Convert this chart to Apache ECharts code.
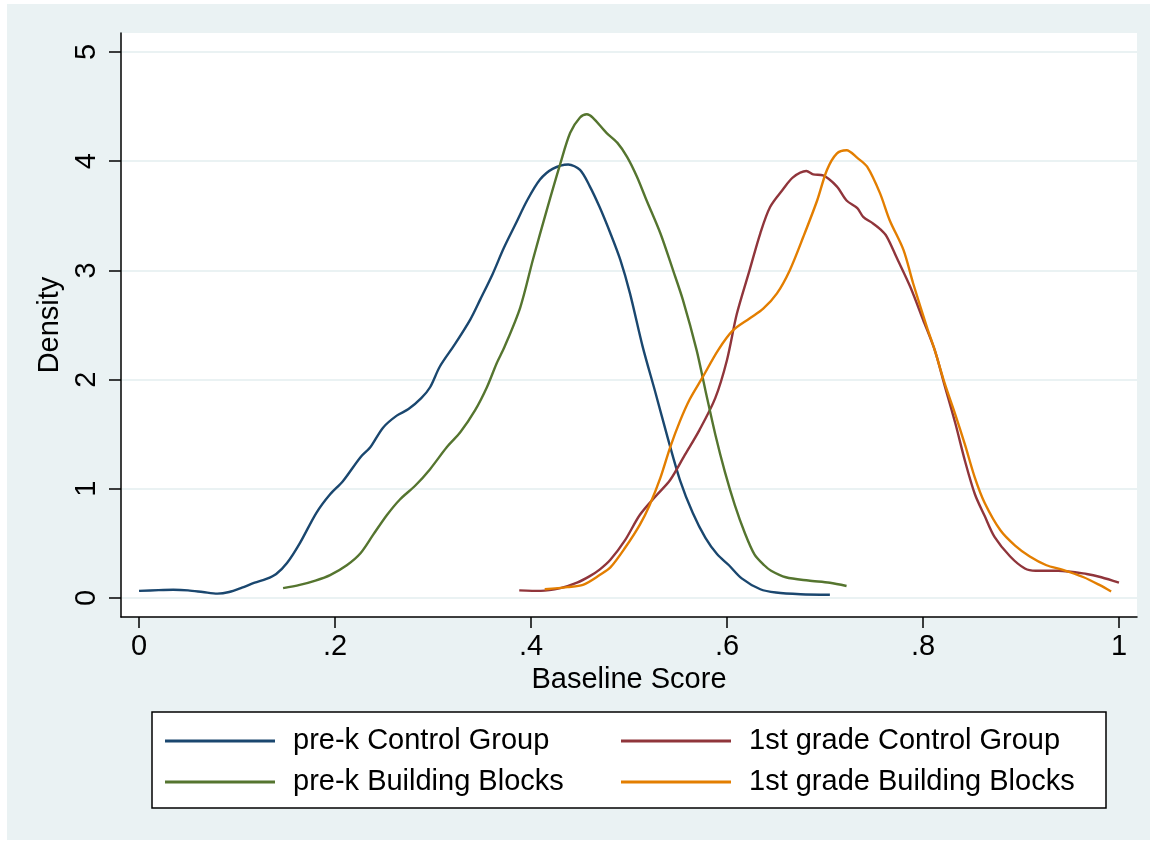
<!DOCTYPE html>
<html>
<head>
<meta charset="utf-8">
<title>Baseline Score density</title>
<script src="https://cdn.jsdelivr.net/npm/echarts@6/dist/echarts.min.js"></script>
<style>
  html, body { margin: 0; padding: 0; background: #ffffff; }
  .bg {
    position: absolute;
    left: 7px; top: 4px;
    width: 1143px; height: 836px;
    background-color: #eaf2f3;
  }
  .chart {
    position: absolute;
    left: 0; top: 0;
    width: 1156px; height: 844px;
  }
</style>
</head>
<body>
<div class="bg"></div>
<div class="chart" id="chart"></div>
<script>
  // 刻度
  const xTicks = [0, 0.2, 0.4, 0.6, 0.8, 1]
  const yTicks = [0, 1, 2, 3, 4, 5]

  // 各组 [score, density]
  const preKControl = [
    [0.000, 0.065], [0.020, 0.072], [0.035, 0.075], [0.050, 0.070], [0.065, 0.055],
    [0.080, 0.040], [0.092, 0.055], [0.105, 0.095], [0.118, 0.140], [0.130, 0.175],
    [0.140, 0.220], [0.151, 0.320], [0.164, 0.500], [0.181, 0.780], [0.195, 0.950],
    [0.208, 1.070], [0.226, 1.290], [0.236, 1.380], [0.249, 1.560], [0.263, 1.670],
    [0.275, 1.730], [0.288, 1.830], [0.297, 1.930], [0.307, 2.120], [0.322, 2.320],
    [0.338, 2.550], [0.348, 2.730], [0.361, 2.970], [0.372, 3.200], [0.384, 3.420],
    [0.396, 3.640], [0.409, 3.830], [0.422, 3.930], [0.438, 3.970], [0.450, 3.920],
    [0.460, 3.770], [0.470, 3.580], [0.481, 3.340], [0.491, 3.100], [0.501, 2.790],
    [0.514, 2.300], [0.527, 1.880], [0.540, 1.450], [0.552, 1.080], [0.565, 0.780],
    [0.578, 0.550], [0.590, 0.400], [0.602, 0.300], [0.615, 0.180], [0.634, 0.080],
    [0.650, 0.050], [0.675, 0.035], [0.705, 0.030]
  ]
  const gradeOneControl = [
    [0.388, 0.070], [0.410, 0.065], [0.430, 0.090], [0.447, 0.140], [0.460, 0.200],
    [0.470, 0.260], [0.481, 0.350], [0.496, 0.530], [0.511, 0.760], [0.527, 0.930],
    [0.542, 1.080], [0.557, 1.310], [0.572, 1.540], [0.588, 1.830], [0.600, 2.180],
    [0.610, 2.600], [0.623, 3.000], [0.634, 3.340], [0.644, 3.580], [0.657, 3.740],
    [0.667, 3.850], [0.681, 3.910], [0.688, 3.880], [0.698, 3.870], [0.712, 3.770],
    [0.722, 3.640], [0.733, 3.570], [0.739, 3.490], [0.749, 3.430], [0.756, 3.380],
    [0.763, 3.310], [0.773, 3.120], [0.787, 2.850], [0.800, 2.550], [0.812, 2.270],
    [0.822, 1.950], [0.833, 1.600], [0.843, 1.250], [0.853, 0.950], [0.863, 0.750],
    [0.873, 0.560], [0.889, 0.380], [0.904, 0.270], [0.915, 0.250], [0.938, 0.250],
    [0.967, 0.220], [0.982, 0.190], [1.000, 0.140]
  ]
  const preKBlocks = [
    [0.147, 0.090], [0.164, 0.120], [0.180, 0.160], [0.195, 0.210], [0.212, 0.300],
    [0.226, 0.410], [0.239, 0.580], [0.253, 0.760], [0.266, 0.900], [0.282, 1.030],
    [0.297, 1.180], [0.314, 1.380], [0.328, 1.520], [0.343, 1.720], [0.355, 1.930],
    [0.365, 2.150], [0.373, 2.300], [0.389, 2.660], [0.402, 3.100], [0.416, 3.550],
    [0.430, 3.980], [0.440, 4.260], [0.450, 4.400], [0.457, 4.430], [0.463, 4.400],
    [0.477, 4.260], [0.488, 4.170], [0.498, 4.040], [0.508, 3.860], [0.518, 3.640],
    [0.532, 3.340], [0.545, 3.000], [0.555, 2.730], [0.569, 2.270], [0.578, 1.900],
    [0.588, 1.500], [0.598, 1.150], [0.608, 0.850], [0.618, 0.600], [0.628, 0.400],
    [0.638, 0.300], [0.645, 0.250], [0.660, 0.190], [0.683, 0.160], [0.705, 0.140],
    [0.722, 0.110]
  ]
  const gradeOneBlocks = [
    [0.414, 0.080], [0.437, 0.100], [0.453, 0.120], [0.470, 0.210], [0.481, 0.280],
    [0.496, 0.460], [0.511, 0.670], [0.521, 0.850], [0.532, 1.100], [0.542, 1.380],
    [0.552, 1.620], [0.562, 1.820], [0.575, 2.020], [0.591, 2.270], [0.606, 2.450],
    [0.623, 2.560], [0.637, 2.650], [0.651, 2.790], [0.664, 3.000], [0.678, 3.310],
    [0.692, 3.640], [0.702, 3.920], [0.712, 4.070], [0.722, 4.100], [0.733, 4.030],
    [0.743, 3.950], [0.756, 3.710], [0.766, 3.460], [0.780, 3.190], [0.790, 2.880],
    [0.804, 2.480], [0.812, 2.270], [0.822, 1.970], [0.833, 1.680], [0.843, 1.400],
    [0.853, 1.100], [0.863, 0.870], [0.879, 0.620], [0.894, 0.480], [0.909, 0.380],
    [0.926, 0.300], [0.942, 0.260], [0.964, 0.190], [0.980, 0.120], [0.992, 0.060]
  ]

  const fontFamily = "'Liberation Sans', Arial, Helvetica, sans-serif"
  const fontSize = 29

  const chartInstance = echarts.init(document.getElementById('chart'))

  function seriesLine(name, color, data) {
    return {
      name: name,
      type: 'line',
      data: data,
      color: color,
      showSymbol: false,
      symbol: 'none',
      smooth: 0.3,
      lineStyle: { color: color, width: 2.4 },
      silent: true
    }
  }

  const legendText = {
    color: '#000000',
    fontSize: fontSize,
    fontFamily: fontFamily,
    lineHeight: 30,
    padding: [0, 0, 0, 13]
  }

  const option = {
    animation: false,
    backgroundColor: 'transparent',
    grid: {
      left: 121,
      right: 19,
      top: 33,
      bottom: 227,
      show: true,
      backgroundColor: '#ffffff',
      borderWidth: 0
    },
    xAxis: {
      type: 'value',
      min: -0.0184,
      max: 1.0184,
      name: 'Baseline Score',
      nameLocation: 'middle',
      nameGap: 48,
      nameTextStyle: { color: '#000000', fontSize: fontSize, fontFamily: fontFamily },
      axisLine: { show: true, onZero: false, lineStyle: { color: '#000000', width: 1.5 } },
      axisTick: { show: true, length: 11, customValues: xTicks, lineStyle: { color: '#000000', width: 1.5 } },
      axisLabel: {
        customValues: xTicks,
        margin: 15,
        color: '#000000',
        fontSize: fontSize,
        fontFamily: fontFamily,
        formatter: function (v) {
          if (v === 0) return '0'
          if (v === 1) return '1'
          return String(+v.toFixed(1)).replace(/^0/, '')
        }
      },
      splitLine: { show: false }
    },
    yAxis: {
      type: 'value',
      min: -0.174,
      max: 5.174,
      name: 'Density',
      nameLocation: 'middle',
      nameGap: 52,
      nameRotate: 90,
      nameTextStyle: { color: '#000000', fontSize: fontSize, fontFamily: fontFamily },
      axisLine: { show: true, onZero: false, lineStyle: { color: '#000000', width: 1.5 } },
      axisTick: { show: true, length: 12, customValues: yTicks, lineStyle: { color: '#000000', width: 1.5 } },
      axisLabel: {
        customValues: yTicks,
        rotate: 90,
        margin: 20,
        color: '#000000',
        fontSize: fontSize,
        fontFamily: fontFamily
      },
      splitLine: { show: true, lineStyle: { color: '#eaf2f3', width: 2 } }
    },
    legend: [
      {
        orient: 'vertical',
        left: 165,
        top: 726,
        padding: 0,
        itemWidth: 110,
        itemHeight: 3,
        itemGap: 11,
        icon: 'rect',
        selectedMode: false,
        textStyle: legendText,
        data: ['pre-k Control Group', 'pre-k Building Blocks']
      },
      {
        orient: 'vertical',
        left: 621,
        top: 726,
        padding: 0,
        itemWidth: 110,
        itemHeight: 3,
        itemGap: 11,
        icon: 'rect',
        selectedMode: false,
        textStyle: legendText,
        data: ['1st grade Control Group', '1st grade Building Blocks']
      }
    ],
    graphic: [
      {
        type: 'rect',
        z: 0,
        shape: { x: 152, y: 712, width: 954, height: 96 },
        style: { fill: '#ffffff', stroke: '#000000', lineWidth: 1.5 }
      }
    ],
    series: [
      seriesLine('pre-k Control Group', '#1a476f', preKControl),
      seriesLine('1st grade Control Group', '#90353b', gradeOneControl),
      seriesLine('pre-k Building Blocks', '#55752f', preKBlocks),
      seriesLine('1st grade Building Blocks', '#e37e00', gradeOneBlocks)
    ]
  }

  chartInstance.setOption(option)
</script>
</body>
</html>
